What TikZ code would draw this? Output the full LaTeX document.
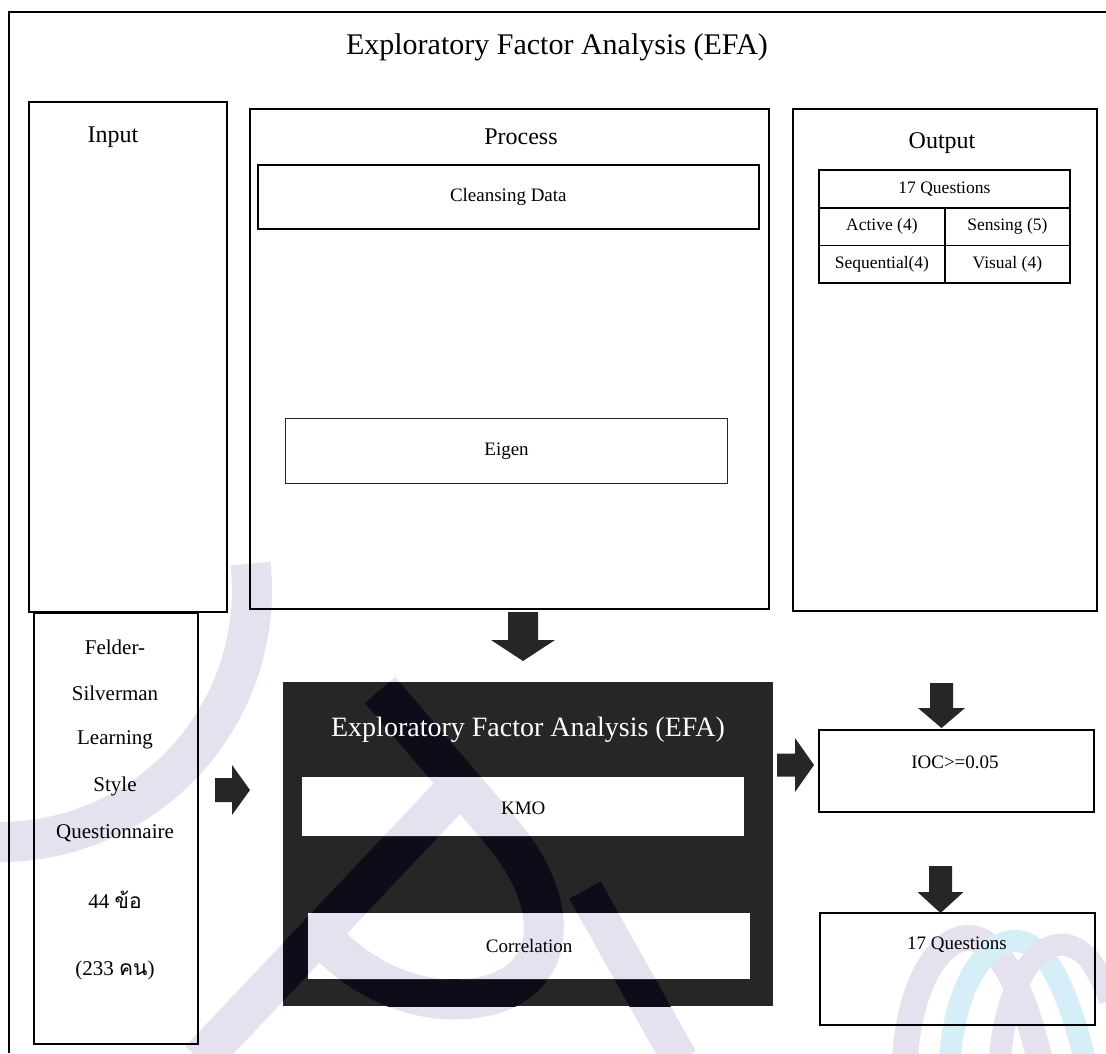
\documentclass[tikz,border=0pt]{standalone}
\usepackage{fontspec}
\setmainfont{Liberation Serif}
\newfontfamily\thaifont[Script=Thai]{Loma}
\usetikzlibrary{calc}

\definecolor{ink}{HTML}{262626}
\definecolor{marklav}{HTML}{E6E1EF}
\definecolor{markcyan}{HTML}{D6EEF8}
\definecolor{markdark}{HTML}{100B18}

\newcommand\fs[1]{\fontsize{#1}{#1}\selectfont}

% faint logo strokes behind the chart
\newcommand\logomark[1]{%
  \begin{scope}[draw=#1, line cap=butt, line join=round]
    \draw[line width=40pt] (0,590) ++(-6:252) arc[start angle=-6, end angle=92, radius=252];
    \draw[line width=40pt] (200,1060) -- (455,790);
    \draw[line width=40pt] (380,690) -- (500,830)
      .. controls (560,900) and (560,975) .. (490,995)
      .. controls (430,1010) and (370,985) .. (330,945);
    \draw[line width=36pt] (585,890) -- (680,1060);
  \end{scope}}

\tikzset{
  panel/.style={draw=black, line width=2.4pt, anchor=north west, inner sep=0pt},
  innerbox/.style={draw=black, line width=1.6pt, anchor=north west, inner sep=0pt, font=\fs{19}},
  thinbox/.style={draw=black!85, line width=1.1pt, anchor=north west, inner sep=0pt, font=\fs{19}},
  resultbox/.style={draw=black, line width=2pt, anchor=north west, inner sep=0pt},
  cell/.style={draw=black, line width=1.8pt, anchor=north west, inner sep=0pt, font=\fs{17.5}},
  whitebox/.style={fill=white, draw=none, anchor=north west, inner sep=0pt},
  heading/.style={font=\fs{24}},
  label19/.style={font=\fs{19}},
  felderline/.style={font=\fs{21}},
  pics/blockarrow/.style n args={4}{code={
    \fill[ink] (0,-#3) -- (#1-#2,-#3) -- (#1-#2,-#4) -- (#1,0)
      -- (#1-#2,#4) -- (#1-#2,#3) -- (0,#3) -- cycle;}}
}

\begin{document}
\begin{tikzpicture}[x=1pt,y=-1pt]
  \useasboundingbox (0,0) rectangle (1106,1053);
  \fill[white] (0,0) rectangle (1106,1053);

  % background logo
  \logomark{marklav}
  \draw[marklav, line width=26pt] (905,1060) .. controls (910,960) and (965,900) .. (1005,965)
    .. controls (1020,990) and (1030,1020) .. (1040,1060);
  \draw[markcyan, line width=22pt] (950,1060) .. controls (955,965) and (1010,905) .. (1050,965)
    .. controls (1065,990) and (1075,1020) .. (1085,1060);
  \draw[marklav, line width=22pt] (1000,1060) .. controls (1005,975) and (1050,915) .. (1090,960)
    .. controls (1100,975) and (1106,990) .. (1110,1000);

  % outer frame
  \draw[line width=2pt] (1106,12) -- (9,12) -- (9,1053);
  \node[font=\fs{30}] (title) at (557,47) {Exploratory Factor Analysis (EFA)};

  % three panels
  \node[panel, minimum width=198, minimum height=510] (input) at (28,101) {};
  \node[heading] (inputlabel) at (113,137) {Input};

  \node[panel, minimum width=519, minimum height=500] (process) at (249,108) {};
  \node[heading] (processlabel) at (521,137) {Process};
  \node[innerbox, minimum width=501, minimum height=64] (cleansing) at (257,164) {Cleansing Data};
  \node[thinbox, minimum width=442, minimum height=65] (eigen) at (285,418) {Eigen};

  \node[panel, minimum width=304, minimum height=502] (output) at (792,108) {};
  \node[heading] (outputlabel) at (942,143) {Output};
  \node[cell, minimum width=251, minimum height=38] (tq) at (818,169) {17 Questions};
  \node[cell, minimum width=126, minimum height=37.5] (tact) at (818,207) {Active (4)};
  \node[cell, minimum width=125, minimum height=37.5] (tsen) at (944,207) {Sensing (5)};
  \node[cell, minimum width=126, minimum height=37.5] (tseq) at (818,244.5) {Sequential(4)};
  \node[cell, minimum width=125, minimum height=37.5] (tvis) at (944,244.5) {Visual (4)};

  % questionnaire
  \node[draw=black, line width=1.6pt, anchor=north west, inner sep=0pt,
        minimum width=164, minimum height=431] (felder) at (33,612) {};
  \foreach \yy/\txt in {647/Felder-, 693/Silverman, 740/Learning, 786/Style, 833/Questionnaire}
    \node[felderline] at (115,\yy) {\txt};
  \node[felderline] (items) at (115,900) {44 {\thaifont ข้อ}};
  \node[felderline] (people) at (115,970) {(233 {\thaifont คน})};

  % EFA block
  \node[fill=ink, anchor=north west, inner sep=0pt, minimum width=490, minimum height=324] (efa) at (283,682) {};
  \begin{scope}
    \clip (283,682) rectangle (773,1006);
    \logomark{markdark}
  \end{scope}
  \node[whitebox, minimum width=442, minimum height=59] (kmo) at (302,777) {};
  \node[whitebox, minimum width=442, minimum height=66] (corr) at (308,913) {};
  \begin{scope}
    \clip (302,777) rectangle (744,836) (308,913) rectangle (750,979);
    \logomark{marklav}
  \end{scope}
  \node[font=\fs{28}, text=white] (efatitle) at (528,730) {Exploratory Factor Analysis (EFA)};
  \node[label19] at ($(kmo.center)+(0,1.5)$) {KMO};
  \node[label19] at (corr.center) {Correlation};

  % results
  \node[resultbox, minimum width=275, minimum height=82] (ioc) at (818,729) {};
  \node[label19] at (955,762) {IOC>=0.05};
  \node[resultbox, minimum width=275, minimum height=112] (final) at (819,912) {};
  \node[label19] at (957,945) {17 Questions};

  % block arrows
  \pic[rotate=-90] at (523,612) {blockarrow={49}{21}{15}{32}};
  \pic at (215,790) {blockarrow={35}{18}{12}{25}};
  \pic at (777,765) {blockarrow={37}{19}{11.5}{27}};
  \pic[rotate=-90] at (941.5,683) {blockarrow={45}{20}{11.5}{23.5}};
  \pic[rotate=-90] at (940.5,866) {blockarrow={47}{21}{11.5}{23}};
\end{tikzpicture}
\end{document}
